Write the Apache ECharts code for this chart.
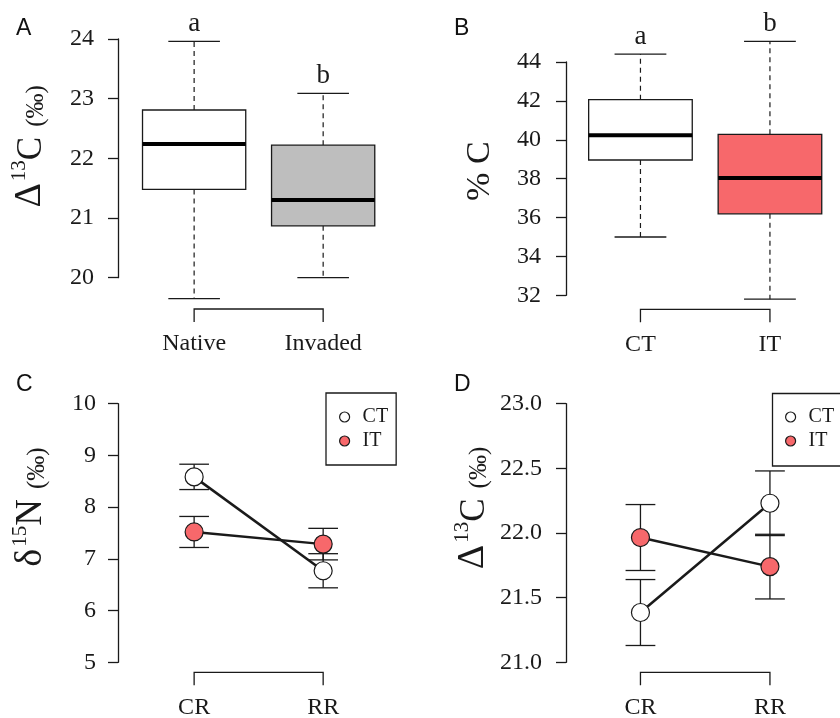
<!DOCTYPE html>
<html><head><meta charset="utf-8">
<script src="https://cdn.jsdelivr.net/npm/echarts@6/dist/echarts.min.js"></script>
<style>html,body{margin:0;padding:0;background:#fff}#chart{width:840px;height:718px}</style>
</head><body><div id="chart"></div>
<script>
// ---- data ----
const catsA = ['Native', 'Invaded'];
const boxA = [[19.65, 21.48, 22.24, 22.81, 23.96], [20.0, 20.87, 21.30, 22.22, 23.09]]; // min,q1,median,q3,max
const lettersA = ['a', 'b'];
const catsB = ['CT', 'IT'];
const boxB = [[35.0, 38.96, 40.23, 42.06, 44.41], [31.8, 36.19, 38.03, 40.28, 45.06]];
const lettersB = ['a', 'b'];
const groupsCD = ['CR', 'RR'];
const ctMeanC = [8.585, 6.77];
const ctSeC = [0.245, 0.33];
const itMeanC = [7.52, 7.285];
const itSeC = [0.30, 0.305];
const ctMeanD = [21.385, 22.23];
const ctSeD = [0.255, 0.25];
const itMeanD = [21.965, 21.74];
const itSeD = [0.255, 0.25];
const yTicksA = [20, 24, 1];
const yTicksB = [32, 44, 2];
const yTicksC = [5, 10, 1];
const yTicksD = [21, 23, 0.5];

// ---- styles ----
const INK = '#1a1a1a';
const SERIF = 'Liberation Serif';
const fillA = ['#ffffff', '#bebebe'];
const fillB = ['#ffffff', '#f7686b'];
const FILL_CT = '#ffffff', FILL_IT = '#f7686b';

const gridsPos = [
  {left: 118, top: 39, width: 280, height: 238.7},
  {left: 566, top: 62, width: 274, height: 233.3},
  {left: 118, top: 403.7, width: 280, height: 258.6},
  {left: 566, top: 403.7, width: 274, height: 258.6}
];
const xRange = [[-0.59, 1.58], [-0.575, 1.541], [-0.59, 1.58], [-0.575, 1.541]];
const xOffset = [31.3, 14, 10, 10];
const xCats = [catsA, catsB, groupsCD, groupsCD];
const yTicks = [yTicksA, yTicksB, yTicksC, yTicksD];
const yLabelMargin = [24, 25, 22, 24];

const richTitle = {
  d: {fontFamily: SERIF, fontSize: 38, lineHeight: 40, verticalAlign: 'bottom', color: INK},
  c: {fontFamily: SERIF, fontSize: 35, lineHeight: 40, verticalAlign: 'bottom', color: INK},
  n: {fontFamily: SERIF, fontSize: 37, lineHeight: 40, verticalAlign: 'bottom', color: INK},
  sup: {fontFamily: SERIF, fontSize: 21, lineHeight: 20, verticalAlign: 'top', color: INK, padding: [0, 0, 0, 2]},
  g: {fontFamily: SERIF, fontSize: 10, lineHeight: 10, width: 10, verticalAlign: 'bottom'},
  m: {fontFamily: SERIF, fontSize: 25, lineHeight: 32, verticalAlign: 'bottom', color: INK},
  big: {fontFamily: SERIF, fontSize: 34, lineHeight: 38, verticalAlign: 'bottom', color: INK}
};
const yNames = [
  '{d|Δ}{sup|13}{c|C}{g| }{m|(‰)}',
  '{big|% C}',
  '{d|δ}{sup|15}{n|N}{g| }{m|(‰)}',
  '{d|Δ}{sup|13}{c|C}{g| }{m|(‰)}'
];
const yNameGap = [69, 69, 68, 74];
const yNamePad = [[0, 0, 0, 24], [0, 0, 0, 15], [0, 0, 0, 52], [0, 0, 0, 50]];

const grid = gridsPos.map(g => Object.assign({containLabel: false, outerBoundsMode: 'none'}, g));

const xAxis = gridsPos.map((g, k) => ({
  type: 'value', gridIndex: k, min: xRange[k][0], max: xRange[k][1],
  offset: xOffset[k],
  axisLine: {show: false}, axisTick: {show: false}, splitLine: {show: false},
  axisLabel: {
    customValues: xCats[k].map((c, i) => i),
    formatter: v => (Number.isInteger(v) && xCats[k][v] !== undefined) ? xCats[k][v] : '',
    margin: 23, fontFamily: SERIF, fontSize: 24, color: INK, lineHeight: 24
  }
}));

const yAxis = gridsPos.map((g, k) => ({
  type: 'value', gridIndex: k, min: yTicks[k][0], max: yTicks[k][1], interval: yTicks[k][2],
  splitLine: {show: false},
  axisLine: {show: true, onZero: false, lineStyle: {color: INK, width: 1.3}},
  axisTick: {show: true, length: 10, lineStyle: {color: INK, width: 1.3}},
  axisLabel: {
    margin: yLabelMargin[k], fontFamily: SERIF, fontSize: 24, color: INK, fontWeight: 'normal',
    formatter: v => k === 3 ? v.toFixed(1) : String(v)
  },
  name: yNames[k], nameLocation: 'middle', nameRotate: 90, nameGap: yNameGap[k],
  nameMoveOverlap: false,
  nameTextStyle: {rich: richTitle, padding: yNamePad[k], fontFamily: SERIF}
}));

function boxRender(fills, letters) {
  return function (params, api) {
    const i = api.value(0);
    const mn = api.value(1), q1 = api.value(2), md = api.value(3), q3 = api.value(4), mx = api.value(5);
    const hw = 0.4, cw = 0.2;
    const tl = api.coord([i - hw, q3]), br = api.coord([i + hw, q1]);
    const cx = api.coord([i, md])[0];
    const yMin = api.coord([i, mn])[1], yMax = api.coord([i, mx])[1];
    const yQ1 = br[1], yQ3 = tl[1], yMd = api.coord([i, md])[1];
    const cl = api.coord([i - cw, mx])[0], cr = api.coord([i + cw, mx])[0];
    const solid = {stroke: INK, lineWidth: 1.3};
    const dashed = {stroke: INK, lineWidth: 1.2, lineDash: [5, 4]};
    return {
      type: 'group',
      children: [
        {type: 'line', shape: {x1: cx, y1: yQ3, x2: cx, y2: yMax}, style: dashed},
        {type: 'line', shape: {x1: cx, y1: yQ1, x2: cx, y2: yMin}, style: dashed},
        {type: 'line', shape: {x1: cl, y1: yMax, x2: cr, y2: yMax}, style: solid},
        {type: 'line', shape: {x1: cl, y1: yMin, x2: cr, y2: yMin}, style: solid},
        {type: 'rect', shape: {x: tl[0], y: tl[1], width: br[0] - tl[0], height: br[1] - tl[1]},
          style: {fill: fills[i], stroke: INK, lineWidth: 1.3}},
        {type: 'line', shape: {x1: tl[0], y1: yMd, x2: br[0], y2: yMd}, style: {stroke: '#000', lineWidth: 4}},
        {type: 'text', x: cx, y: yMax - 4,
          style: {text: letters[i], fontFamily: SERIF, fontSize: 27, fill: INK, align: 'center', verticalAlign: 'bottom'}}
      ]
    };
  };
}

function bracketRender(off) {
  return function (params, api) {
    const cs = params.coordSys;
    const by = cs.y + cs.height + off;
    const x0 = api.coord([api.value(0), api.value(2)])[0];
    const x1 = api.coord([api.value(1), api.value(2)])[0];
    return {type: 'polyline', shape: {points: [[x0, by + 13], [x0, by], [x1, by], [x1, by + 13]]},
      style: {stroke: INK, lineWidth: 1.3, fill: null}};
  };
}

function errRender(params, api) {
  const i = api.value(0), m = api.value(1), se = api.value(2);
  const top = api.coord([i, m + se]), bot = api.coord([i, m - se]);
  const l = api.coord([i - 0.115, m])[0], r = api.coord([i + 0.115, m])[0];
  const st = {stroke: INK, lineWidth: 1.3};
  return {type: 'group', children: [
    {type: 'line', shape: {x1: top[0], y1: top[1], x2: bot[0], y2: bot[1]}, style: st},
    {type: 'line', shape: {x1: l, y1: top[1], x2: r, y2: top[1]}, style: st},
    {type: 'line', shape: {x1: l, y1: bot[1], x2: r, y2: bot[1]}, style: st}
  ]};
}

const series = [];
// brackets (x axes drawn R style)
xCats.forEach((cats, k) => {
  series.push({type: 'custom', xAxisIndex: k, yAxisIndex: k, clip: false, silent: true, z: 1,
    renderItem: bracketRender(xOffset[k]),
    encode: {x: [0, 1], y: 2},
    data: [[0, cats.length - 1, yTicks[k][0]]]});
});
// boxplots
series.push({type: 'custom', name: 'boxA', xAxisIndex: 0, yAxisIndex: 0, clip: false, z: 2,
  renderItem: boxRender(fillA, lettersA), encode: {x: 0, y: [1, 2, 3, 4, 5]},
  data: boxA.map((b, i) => [i].concat(b))});
series.push({type: 'custom', name: 'boxB', xAxisIndex: 1, yAxisIndex: 1, clip: false, z: 2,
  renderItem: boxRender(fillB, lettersB), encode: {x: 0, y: [1, 2, 3, 4, 5]},
  data: boxB.map((b, i) => [i].concat(b))});

function addGroup(k, name, means, ses, fill) {
  series.push({type: 'custom', xAxisIndex: k, yAxisIndex: k, clip: false, z: 2, silent: true,
    renderItem: errRender, encode: {x: 0, y: 1},
    data: means.map((m, i) => [i, m, ses[i]])});
  series.push({type: 'line', name: name, xAxisIndex: k, yAxisIndex: k, z: 3,
    symbol: 'circle', symbolSize: 18, showSymbol: true,
    lineStyle: {color: INK, width: 2.5},
    itemStyle: {color: fill, borderColor: INK, borderWidth: 1.2},
    emphasis: {disabled: true},
    data: means.map((m, i) => [i, m])});
}
addGroup(2, 'CT', ctMeanC, ctSeC, FILL_CT);
addGroup(2, 'IT', itMeanC, itSeC, FILL_IT);
addGroup(3, 'CT', ctMeanD, ctSeD, FILL_CT);
addGroup(3, 'IT', itMeanD, itSeD, FILL_IT);

const legendItems = [
  {name: 'CT', icon: 'circle', itemStyle: {color: FILL_CT, borderColor: INK, borderWidth: 1.2}},
  {name: 'IT', icon: 'circle', itemStyle: {color: FILL_IT, borderColor: INK, borderWidth: 1.2}}
];
function legendAt(left, top, border) {
  return {
    data: legendItems, orient: 'vertical', left: left, top: top,
    padding: [14, 8, 14, 13], itemWidth: 10, itemHeight: 10, itemGap: 4,
    borderColor: INK, borderWidth: border ? 1.3 : 0, selectedMode: false,
    textStyle: {fontFamily: SERIF, fontSize: 20, color: INK, padding: [0, 0, 0, 8], lineHeight: 20}
  };
}

const letterStyle = {fontFamily: 'Liberation Sans', fontSize: 23, fontWeight: 'normal', color: '#111'};
const option = {
  animation: false,
  backgroundColor: '#ffffff',
  textStyle: {fontFamily: SERIF},
  title: [
    {text: 'A', left: 16, top: 17, padding: 0, textStyle: letterStyle},
    {text: 'B', left: 454, top: 17, padding: 0, textStyle: letterStyle},
    {text: 'C', left: 16, top: 373, padding: 0, textStyle: letterStyle},
    {text: 'D', left: 454, top: 373, padding: 0, textStyle: letterStyle}
  ],
  legend: [legendAt(326, 393, true), legendAt(772, 393, false)],
  // frame of panel D's legend, which runs past the right edge of the figure
  graphic: [{type: 'rect', x: 772.5, y: 393.5, silent: true,
    shape: {width: 120, height: 72.5}, style: {fill: 'none', stroke: INK, lineWidth: 1.3}}],
  grid: grid,
  xAxis: xAxis,
  yAxis: yAxis,
  series: series
};
const chart = echarts.init(document.getElementById('chart'), null, {renderer: 'canvas'});
chart.setOption(option);
</script>
</body></html>
